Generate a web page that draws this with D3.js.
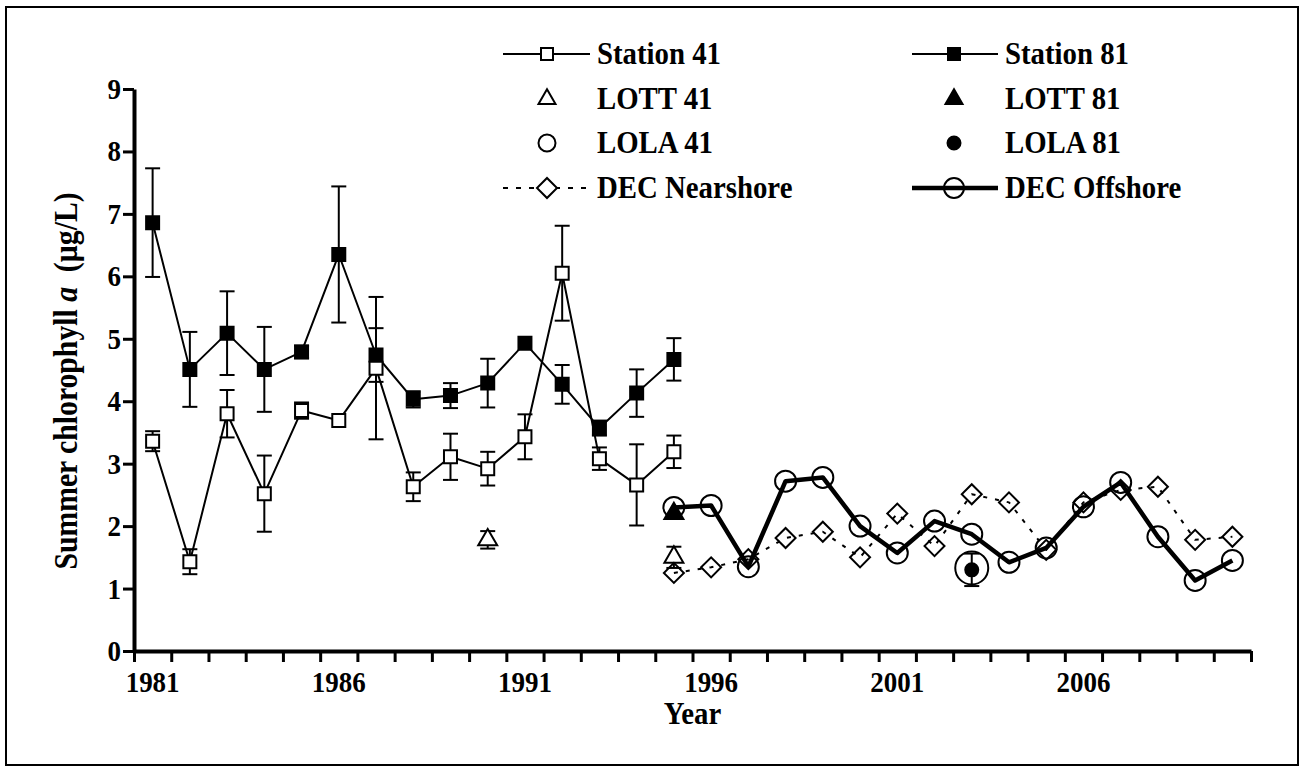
<!DOCTYPE html>
<html>
<head>
<meta charset="utf-8">
<script src="https://cdn.jsdelivr.net/npm/d3@7"></script>
<style>
  html, body { margin: 0; padding: 0; background: #fff; }
  text { font-family: "Liberation Serif", "Times New Roman", serif; font-weight: bold; fill: #000; }
</style>
</head>
<body>
<div id="chart"></div>
<script>
// Values
const stationYears = [1981, 1982, 1983, 1984, 1985, 1986, 1987, 1988, 1989, 1990, 1991, 1992, 1993, 1994, 1995];
const station41 = [3.36, 1.43, 3.80, 2.52, 3.85, 3.69, 4.53, 2.63, 3.11, 2.92, 3.43, 6.05, 3.08, 2.66, 3.19];
const station41Err = [0.16, 0.20, 0.38, 0.61, 0.13, 0, 1.14, 0.23, 0.37, 0.27, 0.36, 0.76, 0.18, 0.65, 0.26];
const station81 = [6.86, 4.51, 5.09, 4.51, 4.79, 6.35, 4.74, 4.03, 4.09, 4.29, 4.93, 4.27, 3.57, 4.13, 4.67];
const station81Err = [0.87, 0.60, 0.67, 0.68, 0.10, 1.09, 0.43, 0.13, 0.20, 0.39, 0, 0.31, 0.12, 0.38, 0.34];

const lott41Years = [1990, 1995];
const lott41 = [1.78, 1.50];
const lott41Err = [0.14, 0.17];
const lott81Years = [1995];
const lott81 = [2.20];
const lola41Years = [2003];
const lola41 = [1.33];
const lola81Years = [2003];
const lola81 = [1.30];
const lola81Err = [0.26];

const decYears = [1995, 1996, 1997, 1998, 1999, 2000, 2001, 2002, 2003, 2004, 2005, 2006, 2007, 2008, 2009, 2010];
const decNearshore = [1.25, 1.34, 1.47, 1.81, 1.91, 1.50, 2.20, 1.68, 2.51, 2.38, 1.62, 2.38, 2.58, 2.63, 1.78, 1.83];
const decOffshore = [2.30, 2.33, 1.35, 2.72, 2.78, 2.00, 1.57, 2.08, 1.87, 1.42, 1.65, 2.31, 2.70, 1.83, 1.13, 1.45];

const yTicks = [0, 1, 2, 3, 4, 5, 6, 7, 8, 9];
const xLabels = [1981, 1986, 1991, 1996, 2001, 2006];

// The svg
const svg = d3.select("#chart")
  .append("svg")
  .attr("width", 1304)
  .attr("height", 771);

// outer frame
svg.append("rect")
  .attr("x", 6).attr("y", 7)
  .attr("width", 1292).attr("height", 758)
  .attr("fill", "none")
  .attr("stroke", "#000")
  .attr("stroke-width", 2);

// Scales (categories are centred on whole years)
const x = d3.scaleLinear().domain([1980.5, 2010.5]).range([134, 1251]);
const y = d3.scaleLinear().domain([0, 9]).range([651, 89]);

// text helper, glyphs are a bit narrow in the original
function label(parent, px, py, str, size, anchor, rotate) {
  return parent.append("text")
    .attr("transform", "translate(" + px + "," + py + ")" + (rotate ? " rotate(-90)" : "") + " scale(0.9,1)")
    .attr("text-anchor", anchor)
    .style("font-size", size + "px")
    .text(str);
}

// Axes
const yAxis = svg.append("g")
  .attr("transform", "translate(" + x.range()[0] + ",0)")
  .call(d3.axisLeft(y).tickValues(yTicks).tickSize(11).tickSizeOuter(0).tickFormat(""));
const xAxis = svg.append("g")
  .attr("transform", "translate(0," + y(0) + ")")
  .call(d3.axisBottom(x).tickValues(d3.range(1980.5, 2011, 1)).tickSize(11).tickSizeOuter(0).tickFormat(""));
[yAxis, xAxis].forEach(function (g) {
  g.select(".domain").attr("stroke", "#000").attr("stroke-width", 4);
  g.selectAll(".tick line").attr("stroke", "#000").attr("stroke-width", 3);
});

yTicks.forEach(function (t) { label(svg, 121, y(t) + 10, String(t), 30, "end"); });
xLabels.forEach(function (t) { label(svg, x(t), 692, String(t), 30, "middle"); });

label(svg, (x.range()[0] + x.range()[1]) / 2, 724, "Year", 32, "middle");

const yTitle = svg.append("text")
  .attr("transform", "translate(77,381) rotate(-90) scale(0.9,1)")
  .attr("text-anchor", "middle")
  .style("font-size", "33px");
yTitle.append("tspan").text("Summer chlorophyll ");
yTitle.append("tspan").style("font-style", "italic").text("a");
yTitle.append("tspan").text("\u00a0\u00a0(\u00b5g/L)");

// Drawing helpers
const plot = svg.append("g");

function errorBars(xs, vs, es) {
  const g = plot.append("g").attr("stroke", "#000").attr("stroke-width", 2);
  xs.forEach(function (yr, i) {
    const e = es[i];
    if (!e) return;
    const cx = x(yr);
    g.append("line").attr("x1", cx).attr("x2", cx).attr("y1", y(vs[i] + e)).attr("y2", y(vs[i] - e));
    [vs[i] + e, vs[i] - e].forEach(function (v) {
      g.append("line").attr("x1", cx - 7.5).attr("x2", cx + 7.5).attr("y1", y(v)).attr("y2", y(v));
    });
  });
}

function seriesLine(xs, vs, width, dash) {
  plot.append("path")
    .datum(xs.map(function (yr, i) { return [yr, vs[i]]; }))
    .attr("fill", "none")
    .attr("stroke", "#000")
    .attr("stroke-width", width)
    .attr("stroke-dasharray", dash || null)
    .attr("stroke-linejoin", "round")
    .attr("d", d3.line().x(function (d) { return x(d[0]); }).y(function (d) { return y(d[1]); }));
}

function drawMarker(g, cx, cy, kind, size) {
  let el;
  if (kind === "square") {
    el = g.append("path").attr("d", d3.symbol(d3.symbolSquare, size * size)());
  } else if (kind === "diamond") {
    el = g.append("path").attr("d", d3.symbol(d3.symbolSquare, size * size / 2)())
      .attr("transform", "translate(" + cx + "," + cy + ") rotate(45)");
    return el;
  } else if (kind === "triangle") {
    el = g.append("path").attr("d", d3.symbol(d3.symbolTriangle, size * size * Math.sqrt(3) / 4)());
  } else {
    el = g.append("circle").attr("r", size / 2);
  }
  el.attr("transform", "translate(" + cx + "," + cy + ")");
  return el;
}

function markers(xs, vs, kind, size, fill) {
  const g = plot.append("g");
  xs.forEach(function (yr, i) {
    drawMarker(g, x(yr), y(vs[i]), kind, size)
      .attr("fill", fill)
      .attr("stroke", "#000")
      .attr("stroke-width", 2);
  });
}

// Series
errorBars(stationYears, station81, station81Err);
seriesLine(stationYears, station81, 2);
markers(stationYears, station81, "square", 13, "#000");

errorBars(stationYears, station41, station41Err);
seriesLine(stationYears, station41, 2);
markers(stationYears, station41, "square", 13, "#fff");

errorBars(lott41Years, lott41, lott41Err);
markers(lott41Years, lott41, "triangle", 19, "#fff");
markers(lott81Years, lott81, "triangle", 19, "#000");

seriesLine(decYears, decNearshore, 2, "4,8");
markers(decYears, decNearshore, "diamond", 20, "none");

seriesLine(decYears, decOffshore, 4.5);
markers(decYears, decOffshore, "circle", 21, "none");

errorBars(lola81Years, lola81, lola81Err);
markers(lola41Years, lola41, "circle", 33, "none");
markers(lola81Years, lola81, "circle", 13, "#000");

// Legend
const legendRows = [54, 99, 143, 188];
const legendCols = [
  { x1: 503, x2: 590, mx: 547, tx: 597 },
  { x1: 912, x2: 998, mx: 954, tx: 1005 }
];
const legendItems = [
  { name: "Station 41", col: 0, row: 0, line: 2, kind: "square", size: 12, fill: "#fff" },
  { name: "Station 81", col: 1, row: 0, line: 2, kind: "square", size: 12, fill: "#000" },
  { name: "LOTT 41", col: 0, row: 1, kind: "triangle", size: 17, fill: "#fff" },
  { name: "LOTT 81", col: 1, row: 1, kind: "triangle", size: 17, fill: "#000" },
  { name: "LOLA 41", col: 0, row: 2, kind: "circle", size: 17, fill: "none" },
  { name: "LOLA 81", col: 1, row: 2, kind: "circle", size: 13, fill: "#000" },
  { name: "DEC Nearshore", col: 0, row: 3, line: 2, dash: "5,8", kind: "diamond", size: 20, fill: "#fff" },
  { name: "DEC Offshore", col: 1, row: 3, line: 4.5, kind: "circle", size: 20, fill: "none" }
];
const legend = svg.append("g");
legendItems.forEach(function (d) {
  const c = legendCols[d.col];
  const ry = legendRows[d.row];
  if (d.line) {
    legend.append("line")
      .attr("x1", c.x1).attr("x2", c.x2).attr("y1", ry).attr("y2", ry)
      .attr("stroke", "#000")
      .attr("stroke-width", d.line)
      .attr("stroke-dasharray", d.dash || null);
  }
  drawMarker(legend, c.mx, ry, d.kind, d.size)
    .attr("fill", d.fill)
    .attr("stroke", "#000")
    .attr("stroke-width", 2);
  label(legend, c.tx, ry + 10, d.name, 32, "start");
});
</script>
</body>
</html>
